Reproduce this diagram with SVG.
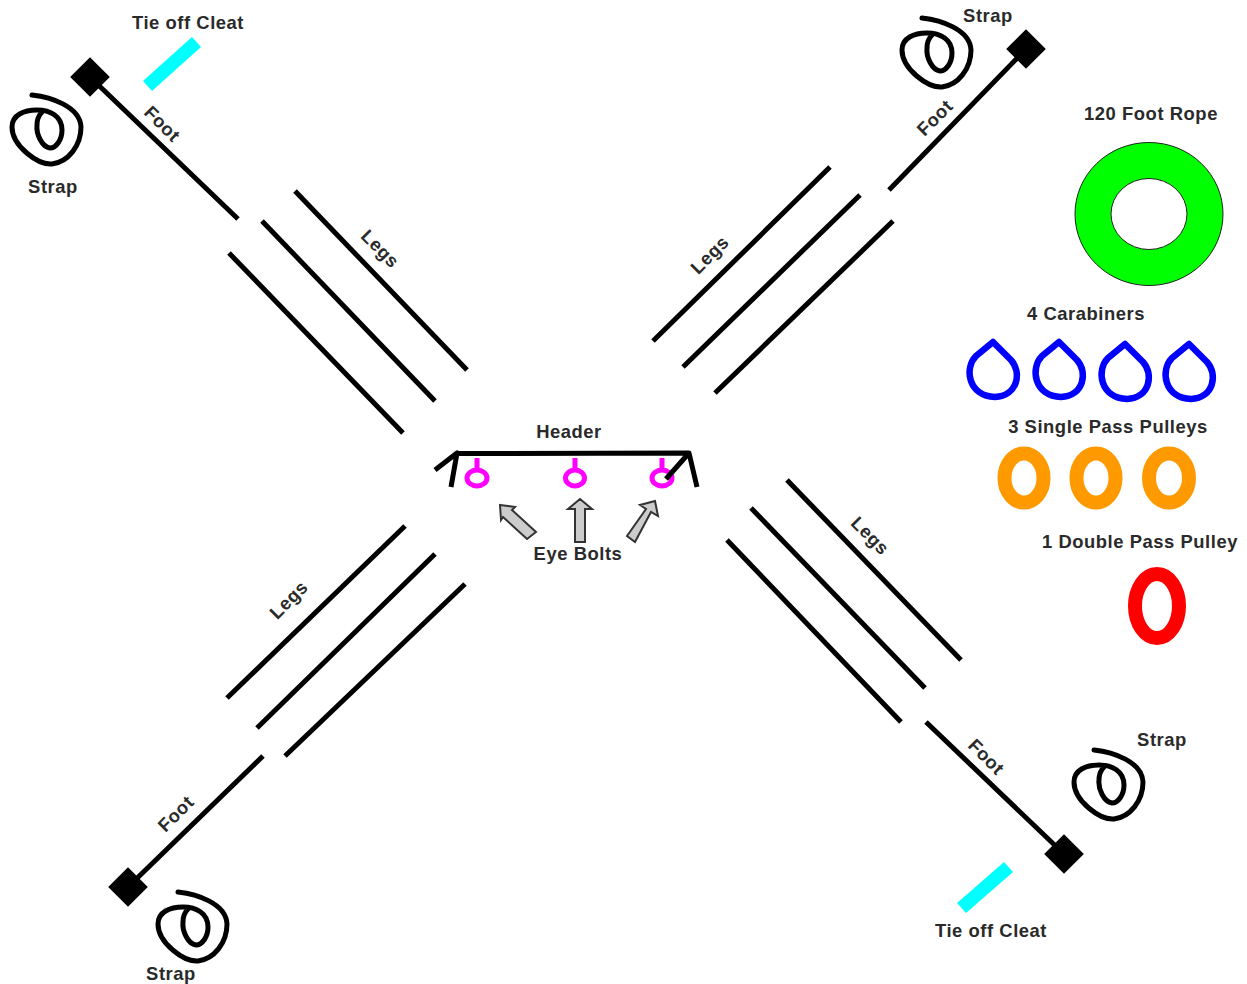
<svg xmlns="http://www.w3.org/2000/svg" width="1247" height="984" viewBox="0 0 1247 984">
<style>
text{font-family:"Liberation Sans",Arial,sans-serif;font-size:18.4px;font-weight:bold;letter-spacing:.55px;fill:#2a2a2a;text-anchor:middle}
.l{stroke:#000;stroke-width:5;fill:none}
.s{stroke:#000;stroke-width:5;fill:none;stroke-linecap:round}
.d{fill:#000}
.c{fill:#0ff}
.b{stroke:#00f;stroke-width:6.5;fill:#fff;stroke-linejoin:round}
.o{stroke:#f90;stroke-width:14;fill:#fff}
.m{stroke:#f0f;stroke-width:5;fill:none}
.a{fill:#ccc;stroke:#333;stroke-width:2}
</style>
<defs>
<path id="strap" class="s" d="M32,95 C50,97 80,106 81,127 C81,146 68,162 52,164 C38,165 12,146 12,127 C12,115 24,110 37,110 C50,110 62,116 62,130 C62,140 56,148 50,148 C42,147 36,134 37,125 C37,119 39,115 42,112"/>
<path id="drop" class="b" d="M993,342 L976,356 C964,368 968,396 995,397 C1018,396 1022,372 1011,360 Z"/>
<rect id="dia" class="d" x="-14" y="-14" width="28" height="28" transform="rotate(45)"/>
</defs>
<g id="connectors">
<path class="l" d="M90,77L238,219M262,221L435,401M295,191L467,370M229,253L403,433"/>
<path class="l" d="M1026,49L889,190M830,167L653,341M860,195L683,367M893,221L715,393"/>
<path class="l" d="M128,887L263,756M405,526L227,698M435,554L257,728M465,584L285,756"/>
<path class="l" d="M1064,854L926,722M787,480L961,660M751,508L925,688M727,540L901,722"/>
</g>
<g id="foot-tl"><use href="#dia" x="90" y="77"/></g>
<g id="foot-tr"><use href="#dia" x="1026" y="49"/></g>
<g id="foot-bl"><use href="#dia" x="128" y="887"/></g>
<g id="foot-br"><use href="#dia" x="1064" y="854"/></g>
<g id="strap-tl"><use href="#strap"/><text x="53" y="193">Strap</text></g>
<g id="strap-tr"><use href="#strap" x="890" y="-77"/><text x="988" y="22">Strap</text></g>
<g id="strap-bl"><use href="#strap" x="146" y="797"/><text x="171" y="980">Strap</text></g>
<g id="strap-br"><use href="#strap" x="1062" y="655"/><text x="1162" y="746">Strap</text></g>
<g id="cleat-tl"><polygon class="c" points="192,37 201,47 152,91 143,81"/><text x="188" y="29">Tie off Cleat</text></g>
<g id="cleat-br"><polygon class="c" points="1004,862 1013,872 966,913 957,903"/><text x="991" y="937">Tie off Cleat</text></g>
<g id="labels">
<text transform="translate(162,124) rotate(45)" y="6">Foot</text>
<text transform="translate(935,118) rotate(-45)" y="6">Foot</text>
<text transform="translate(176,814) rotate(-45)" y="6">Foot</text>
<text transform="translate(986,757) rotate(45)" y="6">Foot</text>
<text transform="translate(380,249) rotate(45)" y="6">Legs</text>
<text transform="translate(710,255) rotate(-45)" y="6">Legs</text>
<text transform="translate(289,600) rotate(-45)" y="6">Legs</text>
<text transform="translate(870,536) rotate(45)" y="6">Legs</text>
</g>
<g id="header">
<path class="m" d="M477,458V470M575,458V470M662,458V470"/>
<ellipse class="m" cx="477" cy="478" rx="10" ry="8"/>
<ellipse class="m" cx="575" cy="478" rx="9.5" ry="8"/>
<ellipse class="m" cx="662" cy="478" rx="10" ry="8"/>
<path class="l" stroke-linejoin="round" d="M435,470L457,453L451,487M457,453.5L689,453L697,487M689,453L666,479"/>
<text x="569" y="438">Header</text>
</g>
<g id="eye-bolts">
<polygon class="a" points="500,505 515,507 512,510 536,532 527,539 503,517 501,520"/>
<polygon class="a" points="580,499 592,509 585,509 585,542 575,542 575,509 568,509"/>
<polygon class="a" points="655,501 640,505 646,509 627,536 635,542 651,512 658,516"/>
<text x="578" y="560">Eye Bolts</text>
</g>
<g id="rope">
<ellipse cx="1149" cy="214" rx="56" ry="53.5" fill="#fff" stroke="#0f0" stroke-width="36"/>
<ellipse cx="1149" cy="214" rx="74" ry="71.5" fill="none" stroke="#222" stroke-width="1"/>
<ellipse cx="1149" cy="214" rx="38" ry="35.5" fill="none" stroke="#222" stroke-width="1"/>
<text x="1151" y="120">120 Foot Rope</text>
</g>
<g id="carabiners">
<use href="#drop"/><use href="#drop" x="66"/><use href="#drop" x="132" y="2"/><use href="#drop" x="196" y="2"/>
<text x="1086" y="320">4 Carabiners</text>
</g>
<g id="single-pulleys">
<ellipse class="o" cx="1024" cy="478" rx="19.5" ry="24.5"/>
<ellipse class="o" cx="1096" cy="478" rx="19.5" ry="24.5"/>
<ellipse class="o" cx="1169" cy="478" rx="20" ry="24.5"/>
<text x="1108" y="433">3 Single Pass Pulleys</text>
</g>
<g id="double-pulley">
<ellipse cx="1157" cy="606" rx="22" ry="32" fill="#fff" stroke="#f00" stroke-width="14"/>
<text x="1140" y="548">1 Double Pass Pulley</text>
</g>
</svg>
